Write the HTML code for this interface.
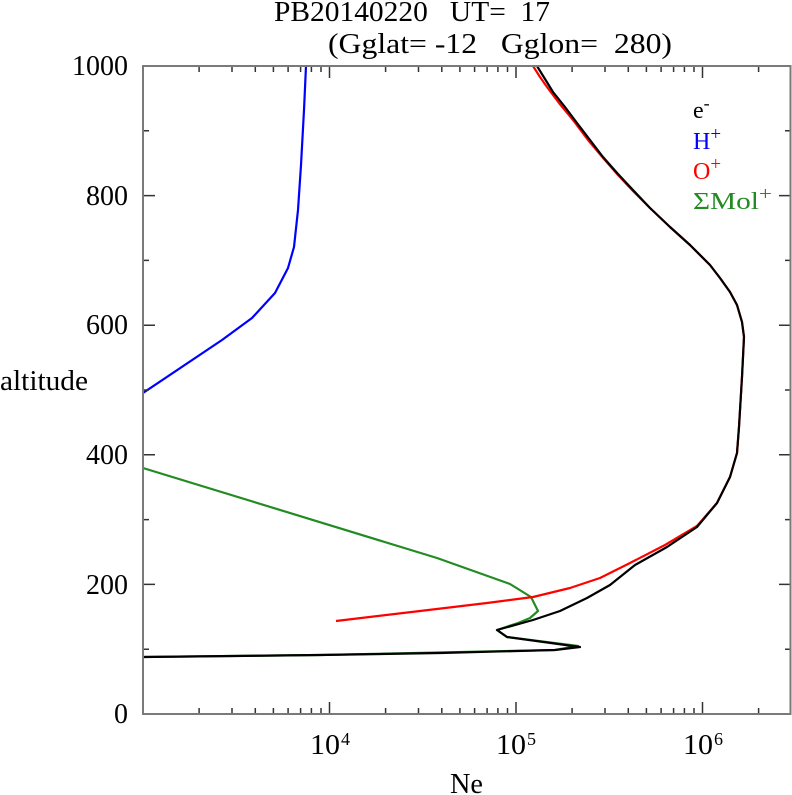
<!DOCTYPE html>
<html>
<head>
<meta charset="utf-8">
<style>
html,body{margin:0;padding:0;background:#fff;}
svg{display:block;}
text{font-family:"Liberation Serif","DejaVu Serif",serif;}
</style>
</head>
<body>
<svg width="792" height="795" viewBox="0 0 792 795" xmlns="http://www.w3.org/2000/svg">
<rect x="0" y="0" width="792" height="795" fill="#fff"/>

<!-- Title -->
<text x="274" y="21" font-size="28" textLength="276" lengthAdjust="spacingAndGlyphs" xml:space="preserve">PB20140220   UT=  17</text>
<text x="328" y="53" font-size="28" textLength="344" lengthAdjust="spacingAndGlyphs" xml:space="preserve">(Gglat= -12   Gglon=  280)</text>

<defs>
<clipPath id="pc"><rect x="143" y="66" width="648" height="648"/></clipPath>
</defs>

<!-- Curves -->
<g clip-path="url(#pc)" fill="none" stroke-width="2.2" stroke-linejoin="round">
<polyline stroke="#0000ff" points="143,393 222,340 252,318 275,293 288,268 294,247 298,210 301,165 304,110 306,66"/>
<polyline stroke="#228b22" points="143,468 437,558 510,584 531,597 538,611 530,618 518,623 497,630 507,637 578,646 555,650 320,655 143,657"/>
<polyline stroke="#ff0000" points="336,621 420,611 487,603 533,597 570,588 600,578 630,563 665,545 697,526 717,503 730,477 737,453 739,427 742,377 744,337 742,322 737,305 730,292 720,278 710,265 690,245 670,227 650,208 633,191 618,175 604,159 588,140 573,120 559,103 547,87 540,77 533,66"/>
<polyline stroke="#000000" points="143,657 320,655 440,653 555,650 580,647 507,637 497,630 533,620 560,611 587,598 610,585 635,565 667,547 697,527 717,503 730,477 737,453 739,427 742,377 744,337 742,322 737,305 730,292 720,278 710,265 690,245 670,227 650,208 633,190 618,174 603,157 590,140 577,123 565,107 553,92 545,79 537,66"/>
</g>

<!-- Ticks -->
<g stroke="#333" stroke-width="1.5">
<path d="M199.1,714v-6M232,714v-6M255.3,714v-6M273.4,714v-6M288.1,714v-6M300.6,714v-6M311.4,714v-6M321,714v-6
M385.6,714v-6M418.5,714v-6M441.8,714v-6M459.9,714v-6M474.6,714v-6M487.1,714v-6M497.9,714v-6M507.5,714v-6
M572.1,714v-6M605,714v-6M628.3,714v-6M646.4,714v-6M661.1,714v-6M673.6,714v-6M684.4,714v-6M694,714v-6M758.6,714v-6"/>
<path d="M329.5,714v-12M516,714v-12M702.5,714v-12"/>
<path d="M199.1,66v6M232,66v6M255.3,66v6M273.4,66v6M288.1,66v6M300.6,66v6M311.4,66v6M321,66v6
M385.6,66v6M418.5,66v6M441.8,66v6M459.9,66v6M474.6,66v6M487.1,66v6M497.9,66v6M507.5,66v6
M572.1,66v6M605,66v6M628.3,66v6M646.4,66v6M661.1,66v6M673.6,66v6M684.4,66v6M694,66v6M758.6,66v6"/>
<path d="M329.5,66v12M516,66v12M702.5,66v12"/>
<path d="M143,584.4h12M143,454.8h12M143,325.2h12M143,195.6h12"/>
<path d="M143,649.2h6M143,519.6h6M143,390h6M143,260.4h6M143,130.8h6"/>
<path d="M791,584.4h-12M791,454.8h-12M791,325.2h-12M791,195.6h-12"/>
<path d="M791,649.2h-6M791,519.6h-6M791,390h-6M791,260.4h-6M791,130.8h-6"/>
</g>

<!-- Frame -->
<rect x="143" y="66" width="647.5" height="648" fill="none" stroke="#7a7a7a" stroke-width="2"/>

<!-- Y tick labels -->
<g font-size="28" text-anchor="end">
<text x="128" y="75">1000</text>
<text x="128" y="205">800</text>
<text x="128" y="334">600</text>
<text x="128" y="464">400</text>
<text x="128" y="594">200</text>
<text x="128" y="723">0</text>
</g>
<text x="0" y="390" font-size="28" textLength="88" lengthAdjust="spacingAndGlyphs">altitude</text>

<!-- X tick labels -->
<g font-size="28">
<text x="310" y="754" textLength="30" lengthAdjust="spacingAndGlyphs">10</text><text x="341" y="745" font-size="18">4</text>
<text x="496" y="754" textLength="30" lengthAdjust="spacingAndGlyphs">10</text><text x="527" y="745" font-size="18">5</text>
<text x="683" y="754" textLength="30" lengthAdjust="spacingAndGlyphs">10</text><text x="714" y="745" font-size="18">6</text>
</g>
<text x="450" y="793" font-size="28" textLength="33" lengthAdjust="spacingAndGlyphs">Ne</text>

<!-- Legend -->
<g font-size="24">
<text x="693" y="118" fill="#000">e<tspan font-size="18" dy="-9">-</tspan></text>
<text x="693" y="149" fill="#0000ff">H<tspan font-size="19" dy="-9">+</tspan></text>
<text x="693" y="179" fill="#ff0000">O<tspan font-size="19" dy="-9">+</tspan></text>
<text x="693" y="209" fill="#228b22" textLength="79" lengthAdjust="spacingAndGlyphs">ΣMol<tspan font-size="19" dy="-9">+</tspan></text>
</g>
</svg>
</body>
</html>
